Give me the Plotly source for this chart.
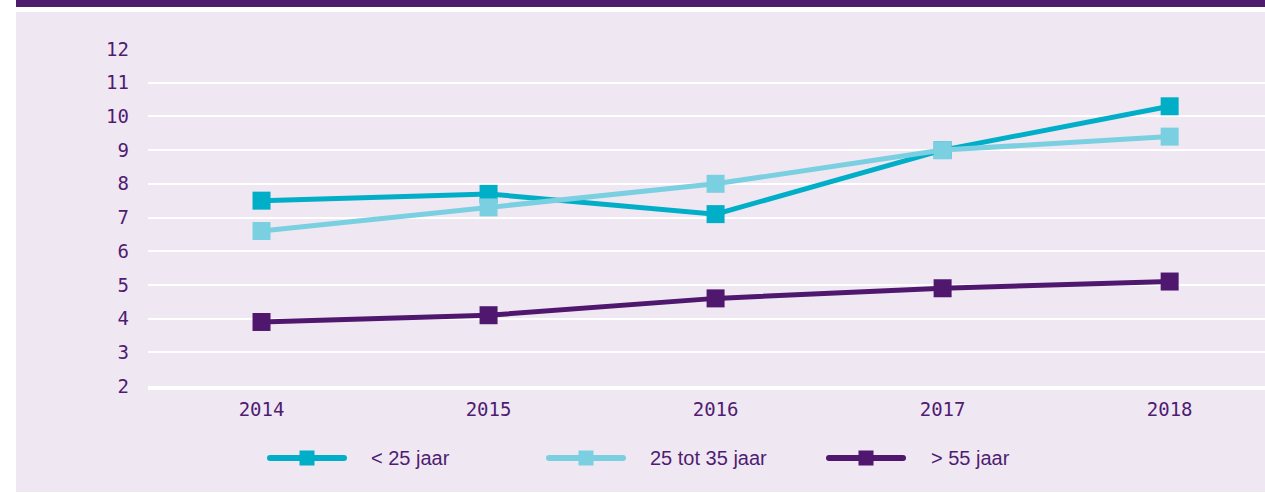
import plotly.graph_objects as go

years = ["2014", "2015", "2016", "2017", "2018"]
series_names = ["< 25 jaar", "25 tot 35 jaar", "> 55 jaar"]
under_25 = [7.5, 7.7, 7.1, 9.0, 10.3]
from_25_to_35 = [6.6, 7.3, 8.0, 9.0, 9.4]
over_55 = [3.9, 4.1, 4.6, 4.9, 5.1]
y_ticks = [2, 3, 4, 5, 6, 7, 8, 9, 10, 11, 12]

colors = ["#00AEC7", "#7AD0E0", "#4F176E"]
text_color = "#4F1C72"
bg = "#EFE8F3"

W, H = 1265, 493
L, R, T, B = 148, 0, 49, 107
pw, ph = W - L - R, H - T - B


def px(x):
    return (x - L) / pw


def py(y):
    return (H - B - y) / ph


fig = go.Figure()
for name, vals, c in zip(series_names, [under_25, from_25_to_35, over_55], colors):
    fig.add_trace(go.Scatter(
        x=years, y=vals, name=name, mode="lines+markers",
        line=dict(color=c, width=5),
        marker=dict(symbol="square", size=18, color=c, line=dict(width=0)),
        showlegend=False,
    ))

shapes = [
    # lavender background panel
    dict(type="rect", xref="paper", yref="paper", x0=px(16), x1=px(W), y0=py(492), y1=py(12),
         fillcolor=bg, line=dict(width=0), layer="below"),
    # purple top bar
    dict(type="rect", xref="paper", yref="paper", x0=px(16), x1=px(W), y0=py(7), y1=py(0),
         fillcolor="#4E1A6E", line=dict(width=0), layer="below"),
]

annotations = []
legend_y = 458
legend_items = [(267, 347, 307, 369), (546, 626, 586, 648), (826, 906, 866, 929)]
for (x0, x1, xm, xt), name, c in zip(legend_items, series_names, colors):
    shapes.append(dict(type="line", xref="paper", yref="paper", x0=px(x0 + 3), x1=px(x1 - 3),
                       y0=py(legend_y), y1=py(legend_y), line=dict(color=c, width=6)))
    shapes.append(dict(type="rect", xref="paper", yref="paper", x0=px(xm - 7.5), x1=px(xm + 7.5),
                       y0=py(legend_y + 7.5), y1=py(legend_y - 7.5), fillcolor=c, line=dict(width=0)))
    shapes.append(dict(type="circle", xref="paper", yref="paper", x0=px(x0), x1=px(x0 + 6),
                       y0=py(legend_y + 3), y1=py(legend_y - 3), fillcolor=c, line=dict(width=0)))
    shapes.append(dict(type="circle", xref="paper", yref="paper", x0=px(x1 - 6), x1=px(x1),
                       y0=py(legend_y + 3), y1=py(legend_y - 3), fillcolor=c, line=dict(width=0)))
    annotations.append(dict(text=name, xref="paper", yref="paper", x=px(xt), y=py(legend_y),
                            xanchor="left", yanchor="middle", showarrow=False,
                            font=dict(family="Liberation Sans, Arial", size=20, color=text_color)))

fig.update_layout(
    width=W, height=H,
    margin=dict(l=L, r=R, t=T, b=B),
    paper_bgcolor="white",
    plot_bgcolor="rgba(0,0,0,0)",
    shapes=shapes,
    annotations=annotations,
    showlegend=False,
    font=dict(family="DejaVu Sans Mono", size=19, color=text_color),
    xaxis=dict(
        type="category", range=[-0.5, 4.42], showgrid=False, zeroline=False,
        showline=True, linecolor="white", linewidth=4, ticks="",
        ticklabelstandoff=3, tickfont=dict(family="DejaVu Sans Mono", size=19, color=text_color),
    ),
    yaxis=dict(
        range=[2, 12], tickvals=y_ticks, showgrid=True, gridcolor="white", gridwidth=1.5,
        zeroline=False, showline=False, ticks="", ticklabelstandoff=18,
        tickfont=dict(family="DejaVu Sans Mono", size=19, color=text_color),
    ),
)

fig.write_html(
    "out.html",
    config={"displayModeBar": False},
    post_script="document.body.style.margin='0';document.body.style.overflow='hidden';",
)
